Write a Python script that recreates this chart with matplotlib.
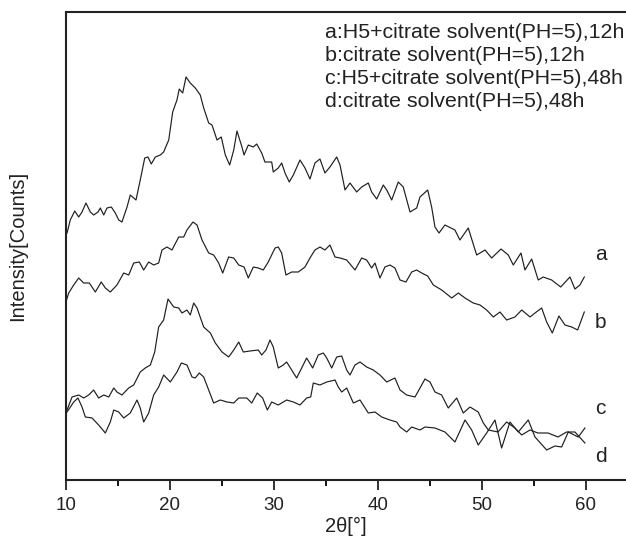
import numpy as np
import matplotlib.pyplot as plt

plt.rcParams['font.family'] = ['Liberation Sans', 'DejaVu Sans']

# 2theta (deg) and intensity (arb. counts)
tt_a = [10.10, 10.41, 10.84, 11.22, 11.54, 11.92, 12.34, 12.66, 13.08, 13.30,
        13.63, 13.94, 14.36, 14.74, 15.07, 15.38, 15.87, 16.18, 16.73, 17.14,
        17.57, 17.88, 18.20, 18.59, 19.07, 19.39, 19.88, 20.26, 20.67, 20.89,
        21.22, 21.54, 21.95, 22.43, 22.91, 23.24, 23.72, 24.04, 24.52, 24.93,
        25.32, 25.74, 26.13, 26.44, 26.92, 27.12, 27.53, 28.01, 28.34, 28.82,
        29.13, 29.78, 29.93, 30.41, 30.74, 31.06, 31.47, 31.86, 32.50, 32.98,
        33.46, 33.94, 34.42, 34.90, 35.38, 36.03, 36.35, 36.83, 37.31, 37.95,
        38.43, 39.07, 39.39, 39.88, 40.51, 40.84, 41.32, 41.95, 42.43, 43.08,
        43.72, 44.04, 44.78, 45.16, 45.48, 45.87, 46.44, 47.40, 47.88, 48.68,
        49.49, 50.29, 50.93, 51.83, 52.53, 53.01, 53.75, 54.13, 54.78, 55.41,
        55.89, 56.70, 57.57, 58.46, 58.94, 59.42, 59.84]
int_a = [247, 260, 269, 263, 268, 277, 268, 265, 268, 272,
         265, 272, 273, 267, 260, 258, 273, 285, 280, 300,
         322, 323, 316, 323, 325, 328, 340, 368, 380, 391,
         387, 403, 397, 392, 385, 372, 357, 355, 340, 343,
         325, 315, 330, 349, 333, 325, 335, 333, 336, 327,
         318, 318, 308, 312, 317, 307, 298, 305, 320, 312,
         301, 317, 321, 307, 313, 323, 315, 290, 297, 288,
         293, 297, 288, 281, 295, 290, 280, 298, 293, 268,
         272, 283, 290, 273, 253, 247, 255, 250, 240, 252,
         225, 230, 222, 231, 225, 215, 227, 210, 221, 200,
         203, 200, 193, 203, 191, 195, 203]

tt_b = [10.05, 10.26, 10.74, 11.22, 11.70, 12.24, 12.82, 13.39, 13.78, 14.26,
        14.90, 15.55, 16.03, 16.51, 17.05, 17.47, 17.95, 18.43, 18.91, 19.23,
        19.71, 20.19, 20.84, 21.32, 21.63, 22.21, 22.60, 23.08, 23.72, 24.20,
        24.68, 25.07, 25.64, 26.13, 26.61, 27.12, 27.53, 28.01, 28.49, 28.97,
        29.45, 30.10, 30.41, 30.74, 31.15, 31.70, 32.34, 32.98, 33.46, 33.94,
        34.42, 34.90, 35.38, 35.87, 36.35, 36.99, 37.79, 38.43, 38.91, 39.39,
        39.71, 40.19, 40.67, 41.15, 41.63, 42.12, 42.69, 43.24, 43.72, 44.20,
        44.78, 45.32, 46.13, 47.09, 47.73, 48.37, 49.16, 49.81, 50.45, 51.09,
        51.73, 52.37, 53.17, 53.82, 54.62, 55.10, 55.74, 56.22, 56.76, 57.40,
        57.98, 58.63, 59.20, 59.84]
int_b = [180, 187, 195, 202, 197, 197, 188, 198, 192, 188,
         195, 207, 205, 217, 218, 210, 218, 215, 217, 230,
         233, 230, 243, 243, 250, 258, 255, 240, 227, 225,
         217, 207, 223, 222, 215, 213, 202, 213, 212, 210,
         218, 232, 233, 227, 205, 208, 208, 213, 222, 230,
         233, 230, 235, 223, 222, 220, 210, 222, 220, 212,
         217, 202, 213, 215, 212, 200, 198, 208, 210, 207,
         204, 195, 190, 182, 187, 182, 177, 175, 170, 163,
         168, 160, 163, 170, 163, 167, 172, 158, 147, 164,
         155, 153, 150, 168]

tt_c = [10.10, 10.58, 11.22, 11.70, 12.18, 12.66, 13.14, 13.63, 14.11, 14.59,
        14.90, 15.38, 16.03, 16.51, 17.14, 17.62, 18.11, 18.53, 18.91, 19.39,
        19.81, 20.36, 20.84, 21.15, 21.63, 21.95, 22.28, 22.60, 23.24, 23.88,
        24.36, 25.00, 25.64, 26.13, 26.61, 27.05, 27.69, 28.49, 28.82, 29.23,
        29.62, 29.93, 30.41, 30.89, 31.22, 31.70, 32.18, 32.66, 33.14, 33.72,
        34.26, 34.74, 35.07, 35.55, 36.03, 36.51, 36.99, 37.31, 37.79, 38.27,
        38.91, 39.55, 40.19, 40.84, 41.63, 42.12, 42.76, 43.56, 44.04, 44.52,
        45.00, 45.48, 46.12, 46.76, 47.57, 48.20, 48.85, 49.64, 50.13, 50.61,
        51.54, 52.37, 53.17, 53.82, 54.62, 55.38, 56.35, 57.31, 58.14, 58.94,
        59.90]
int_c = [70, 83, 85, 82, 85, 90, 82, 85, 83, 92,
         88, 85, 92, 95, 108, 112, 115, 128, 153, 160,
         181, 173, 172, 167, 170, 165, 177, 172, 153, 147,
         137, 128, 123, 130, 138, 128, 129, 130, 125, 130,
         140, 133, 112, 115, 118, 110, 102, 112, 122, 112,
         125, 127, 122, 112, 123, 124, 110, 105, 115, 118,
         113, 110, 105, 98, 102, 90, 85, 83, 92, 101,
         98, 88, 85, 72, 82, 67, 73, 68, 57, 50,
         48, 58, 52, 45, 50, 47, 47, 43, 48, 48,
         37]

tt_d = [10.10, 10.74, 11.15, 11.54, 11.86, 12.50, 13.14, 13.78, 14.26, 14.59,
        15.07, 15.55, 16.18, 16.83, 17.14, 17.47, 17.95, 18.43, 18.91, 19.39,
        20.03, 20.67, 21.09, 21.63, 22.12, 22.43, 22.82, 23.24, 23.72, 24.20,
        24.84, 25.48, 26.13, 26.61, 27.38, 27.86, 28.39, 28.91, 29.36, 29.78,
        30.41, 31.22, 31.86, 32.50, 33.14, 33.53, 33.78, 34.42, 35.07, 35.87,
        36.18, 36.51, 36.99, 37.63, 38.27, 39.07, 39.71, 40.36, 41.15, 41.80,
        42.12, 42.76, 43.24, 44.04, 44.52, 45.48, 46.44, 47.40, 48.37, 49.01,
        49.64, 50.45, 51.25, 51.89, 52.69, 53.49, 54.45, 55.10, 56.22, 57.02,
        57.66, 58.30, 59.26, 59.90]
int_d = [68, 78, 82, 73, 63, 62, 55, 47, 58, 70,
         68, 62, 67, 80, 72, 58, 67, 85, 93, 105,
         98, 108, 117, 115, 103, 102, 107, 103, 90, 77,
         80, 78, 77, 82, 82, 77, 87, 82, 70, 78,
         75, 80, 78, 75, 82, 83, 97, 95, 98, 100,
         93, 88, 92, 77, 80, 67, 68, 63, 60, 58,
         53, 48, 53, 50, 53, 52, 48, 38, 60, 50,
         35, 47, 60, 32, 58, 48, 60, 43, 30, 34,
         33, 48, 43, 52]

legend_lines = ["a:H5+citrate solvent(PH=5),12h",
                "b:citrate solvent(PH=5),12h",
                "c:H5+citrate solvent(PH=5),48h",
                "d:citrate solvent(PH=5),48h"]
curve_tags = ["a", "b", "c", "d"]
tag_y = [225, 158, 72, 23]

fig = plt.figure(figsize=(6.26, 5.48), dpi=100)
ax = fig.add_axes([66/626, 68/548, 560/626, 468/548])

for tt, inten in [(tt_a, int_a), (tt_b, int_b), (tt_c, int_c), (tt_d, int_d)]:
    ax.plot(tt, inten, color='#1e1e1e', lw=0.85)

ax.set_xlim(10, 63.85)
ax.set_ylim(0, 468)
ax.set_xticks([10, 20, 30, 40, 50, 60])
ax.set_xticks([15, 25, 35, 45, 55], minor=True)
ax.set_yticks([])
ax.tick_params(axis='x', which='major', direction='out', length=7, width=1.3,
               labelsize=13.5, pad=5, colors='#222222')
ax.tick_params(axis='x', which='minor', direction='out', length=4, width=1.3)
ax.spines['right'].set_visible(False)
for s in ['left', 'top', 'bottom']:
    ax.spines[s].set_linewidth(1.5)
    ax.spines[s].set_color('#222222')

ax.set_xlabel("2θ[°]", fontsize=14.5, labelpad=2, color='#222222')
ax.set_ylabel("Intensity[Counts]", fontsize=14.5, labelpad=28, color='#222222')

for i, line in enumerate(legend_lines):
    fig.text(325/626, 1 - (32 + 23.3*i)/548, line, fontsize=15.4, va='center',
             ha='left', color='#222222')

for tag, ty in zip(curve_tags, tag_y):
    ax.text(61.4, ty, tag, fontsize=15, ha='center', va='center', color='#222222')

fig.savefig("out.png", dpi=100)
